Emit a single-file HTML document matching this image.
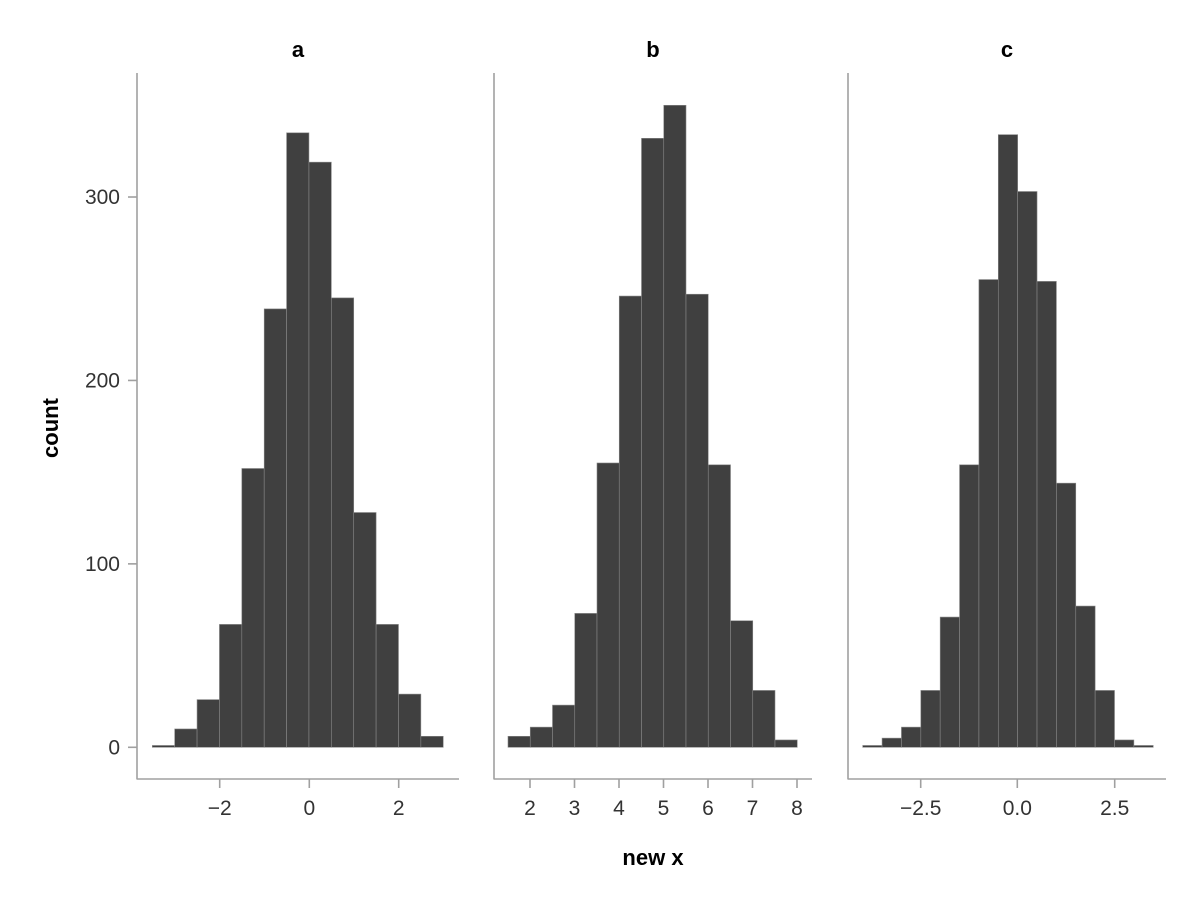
<!DOCTYPE html>
<html><head><meta charset="utf-8"><style>
body{margin:0;background:#fff}
svg text{font-family:"Liberation Sans",sans-serif}
</style></head><body>
<svg id="s" width="1200" height="900" xmlns="http://www.w3.org/2000/svg"></svg>
<script>
const s=document.getElementById('s');let h='';
const Y0=747.3,k=1.8343;
function panel(ax0,ax1,x0,w,counts,ticks,title){
  h+=`<line x1="${ax0}" y1="73" x2="${ax0}" y2="779.5" stroke="#a0a0a0" stroke-width="1.6"/>`;
  h+=`<line x1="${ax0}" y1="779" x2="${ax1}" y2="779" stroke="#a0a0a0" stroke-width="1.6"/>`;
  counts.forEach((c,i)=>{const x=x0+i*w,hh=Math.max(c*k,1.5);
    h+=`<rect x="${x}" y="${Y0-hh}" width="${w}" height="${hh}" fill="#404040" stroke="#888" stroke-width="0.6"/>`;});
  ticks.forEach(([x,l])=>{h+=`<line x1="${x}" y1="779" x2="${x}" y2="788" stroke="#a0a0a0" stroke-width="1.6"/><text x="${x}" y="815" font-size="21" text-anchor="middle" fill="#333">${l}</text>`;});
  h+=`<text x="${(ax0+ax1)/2}" y="57" font-size="22" font-weight="bold" text-anchor="middle">${title}</text>`;
}
panel(137,459,152.3,22.38,[1,10,26,67,152,239,335,319,245,128,67,29,6],[[219.7,'−2'],[309.3,'0'],[398.7,'2']],'a');
panel(494,812,508,22.25,[6,11,23,73,155,246,332,350,247,154,69,31,4],[[530,'2'],[574.5,'3'],[619,'4'],[663.5,'5'],[708,'6'],[752.5,'7'],[797,'8']],'b');
panel(848,1166,862.7,19.37,[1,5,11,31,71,154,255,334,303,254,144,77,31,4,1],[[920.7,'−2.5'],[1017.3,'0.0'],[1114.7,'2.5']],'c');
[[0,'0'],[100,'100'],[200,'200'],[300,'300']].forEach(([v,l])=>{const y=Y0-v*k;
  h+=`<line x1="128" y1="${y}" x2="137" y2="${y}" stroke="#a0a0a0" stroke-width="1.6"/><text x="120" y="${y+7}" font-size="21" text-anchor="end" fill="#333">${l}</text>`;});
h+=`<text x="653" y="865" font-size="22" font-weight="bold" text-anchor="middle">new x</text>`;
h+=`<text transform="translate(58,428) rotate(-90)" font-size="22" font-weight="bold" text-anchor="middle">count</text>`;
s.innerHTML=h;
</script>
</body></html>
